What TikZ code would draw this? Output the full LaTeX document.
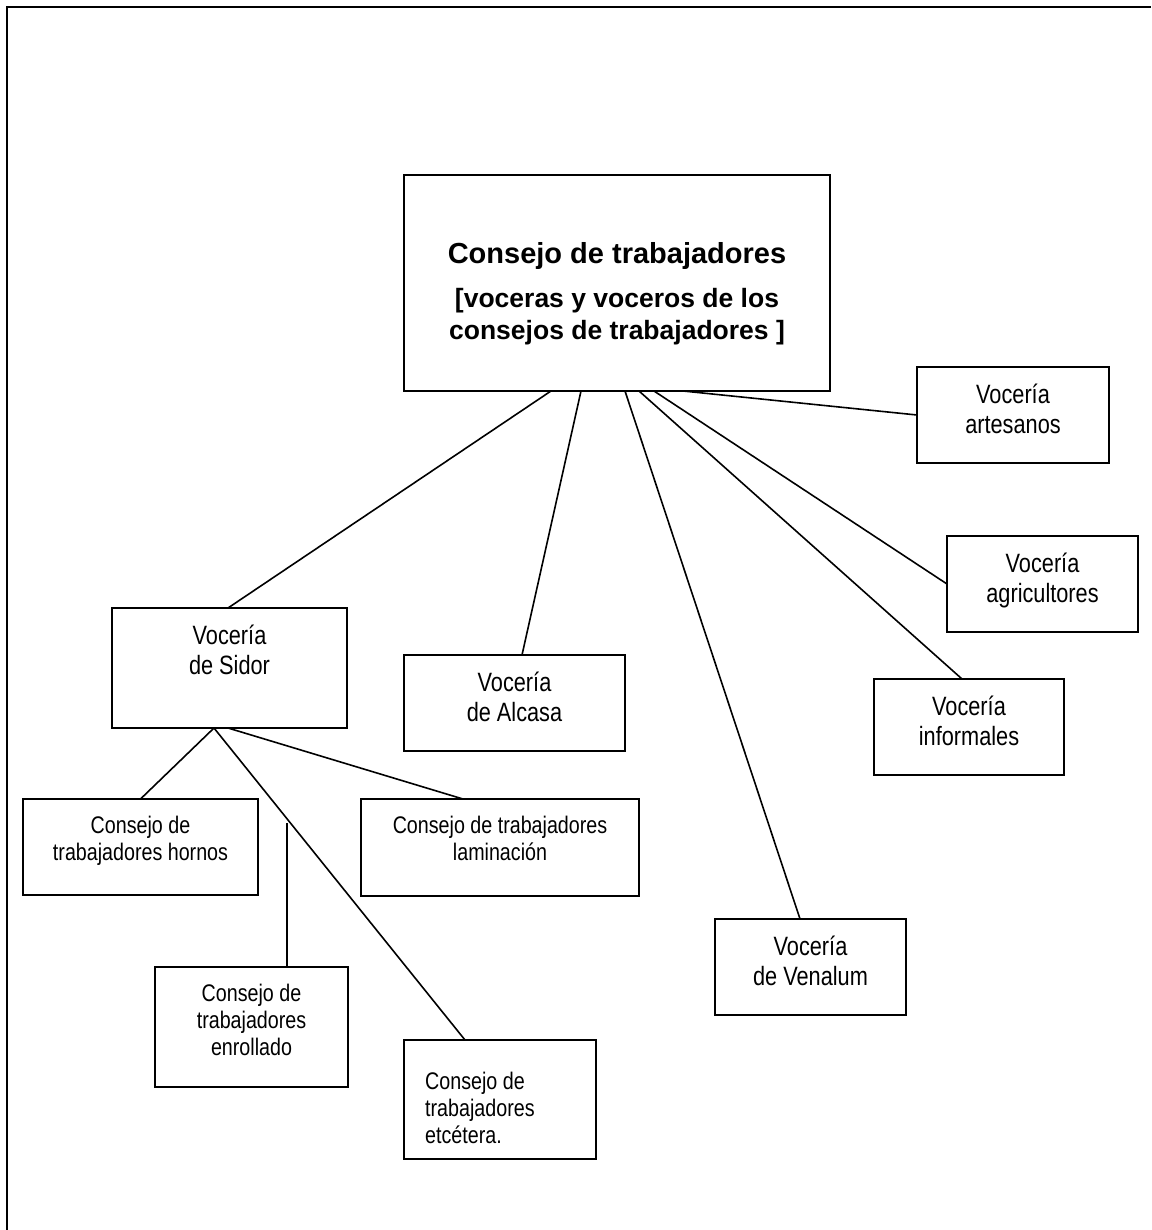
\documentclass[tikz,border=0pt]{standalone}
\usepackage{fontspec}
\setmainfont{Liberation Sans}
\newfontfamily\narrowfont[FakeStretch=0.82]{Liberation Sans}
\usetikzlibrary{positioning}

\begin{document}
\begin{tikzpicture}[x=1pt,y=-1pt,
  caja/.style={draw,line width=1.6pt,inner sep=0pt,outer sep=0pt,anchor=north west},
  voz/.style={font=\narrowfont\fontsize{26.5}{30}\selectfont,align=center,anchor=north,inner sep=0pt,yshift=-17pt},
  cons/.style={font=\narrowfont\fontsize{24}{27}\selectfont,align=center,anchor=north,inner sep=0pt,yshift=-16.5pt},
  linea/.style={line width=1.6pt}]
\useasboundingbox (0,0) rectangle (1151,1230);
\draw[line width=2.4pt] (7,1230) -- (7,7) -- (1151,7);

\node[caja,minimum width=426pt,minimum height=216pt,
  label={[font=\bfseries\fontsize{29}{34}\selectfont,anchor=north,inner sep=0pt,yshift=-67pt]north:Consejo de trabajadores},
  label={[font=\bfseries\fontsize{26.5}{32}\selectfont,align=center,anchor=north,inner sep=0pt,yshift=-113.5pt]north:{[voceras y voceros de los\\consejos de trabajadores ]}}] (consejo) at (404,175) {};

\node[caja,minimum width=235pt,minimum height=120pt,label={[voz]north:{Vocería\\de Sidor}}] (sidor) at (112,608) {};
\node[caja,minimum width=221pt,minimum height=96pt,label={[voz]north:{Vocería\\de Alcasa}}] (alcasa) at (404,655) {};
\node[caja,minimum width=191pt,minimum height=96pt,label={[voz]north:{Vocería\\de Venalum}}] (venalum) at (715,919) {};
\node[caja,minimum width=190pt,minimum height=96pt,label={[voz]north:{Vocería\\informales}}] (informales) at (874,679) {};
\node[caja,minimum width=191pt,minimum height=96pt,label={[voz]north:{Vocería\\agricultores}}] (agricultores) at (947,536) {};
\node[caja,minimum width=192pt,minimum height=96pt,label={[voz]north:{Vocería\\artesanos}}] (artesanos) at (917,367) {};

\node[caja,minimum width=235pt,minimum height=96pt,label={[cons]north:{Consejo de\\trabajadores hornos}}] (hornos) at (23,799) {};
\node[caja,minimum width=278pt,minimum height=97pt,label={[cons]north:{Consejo de trabajadores\\laminación}}] (laminacion) at (361,799) {};
\node[caja,minimum width=193pt,minimum height=120pt,label={[cons]north:{Consejo de\\trabajadores\\enrollado}}] (enrollado) at (155,967) {};
\node[caja,minimum width=192pt,minimum height=119pt,label={[cons,align=left,anchor=north west,xshift=21pt,yshift=-15pt]north west:{Consejo de\\trabajadores\\etcétera.}}] (etcetera) at (404,1040) {};

\draw[linea] ([xshift=147pt]consejo.south west) -- ([xshift=116pt]sidor.north west);
\draw[linea] ([xshift=177pt]consejo.south west) -- ([xshift=118pt]alcasa.north west);
\draw[linea] ([xshift=221pt]consejo.south west) -- ([xshift=85pt]venalum.north west);
\draw[linea] ([xshift=235pt]consejo.south west) -- ([xshift=88pt]informales.north west);
\draw[linea] ([xshift=250pt]consejo.south west) -- (agricultores.west);
\draw[linea] ([xshift=279pt]consejo.south west) -- (artesanos.west);

\draw[linea] ([xshift=102pt]sidor.south west) -- (hornos.north);
\draw[linea] ([xshift=102pt]sidor.south west) -- ([xshift=61pt]etcetera.north west);
\draw[linea] ([xshift=116pt]sidor.south west) -- ([xshift=102pt]laminacion.north west);
\coordinate (enrtop) at (287,823);
\draw[linea] (enrtop) -- (enrtop |- enrollado.north);
\end{tikzpicture}
\end{document}
